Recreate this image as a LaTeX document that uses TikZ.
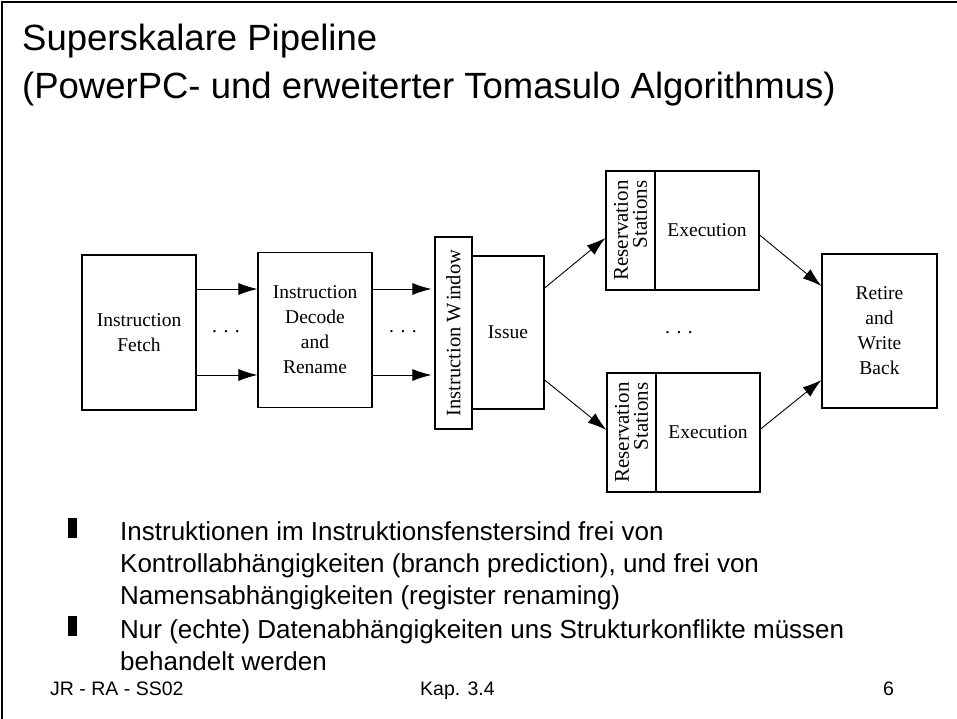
\documentclass[tikz,border=0pt]{standalone}
\usepackage{fontspec}
\setmainfont{Liberation Serif}
\newfontfamily\arial{Liberation Sans}
\usetikzlibrary{arrows.meta}
\begin{document}
\begin{tikzpicture}[x=1pt,y=-1pt,
  blk/.style={draw=black, line width=1.2pt, inner sep=0pt, align=center,
    font=\fontsize{19.5}{25}\selectfont},
  vblk/.style={blk, rotate=90},
  arr/.style={line width=0.9pt, -{Latex[length=19pt,width=12pt]}},
  dots/.style={inner sep=0pt, font=\fontsize{19.5}{25}\selectfont},
  ttl/.style={anchor=base west, inner sep=0pt, font=\arial\fontsize{36.5}{40}\selectfont},
  btxt/.style={anchor=base west, inner sep=0pt, font=\arial\fontsize{26}{32}\selectfont},
  foot/.style={anchor=base west, inner sep=0pt, font=\arial\fontsize{19.5}{22}\selectfont},
  bul/.style={fill=black, draw=none}]
\useasboundingbox (0,0) rectangle (957,719);
\fill[white] (0,0) rectangle (957,719);
% frame (top and left)
\draw[line width=2pt] (2,719) -- (2,2) -- (957,2);
% title
\node[ttl] (t1) at (22,51) {Superskalare Pipeline};
\node[ttl] (t2) at (22,99) {(PowerPC- und erweiterter Tomasulo Algorithmus)};
% blocks
\node[blk, minimum width=114pt, minimum height=155pt] (fetch) at (139,332.5) {Instruction\\Fetch};
\node[blk, minimum width=114pt, minimum height=155pt] (decode) at (315,330) {Instruction\\Decode\\and\\Rename};
\node[vblk, minimum width=192pt, minimum height=37pt, font=\fontsize{20.5}{25}\selectfont] (iw) at (453.5,333) {Instruction W\kern2pt indow};
\node[blk, minimum width=72pt, minimum height=153pt] (issue) at (508,332.5) {Issue};
\node[vblk, minimum width=119pt, minimum height=49pt, align=right, font=\fontsize{21}{19}\selectfont] (rs1) at (630.5,230.5) {Reservation\\Stations};
\node[blk, minimum width=104pt, minimum height=119pt] (ex1) at (707,230.5) {Execution};
\node[vblk, minimum width=119pt, minimum height=49pt, align=right, font=\fontsize{21}{19}\selectfont] (rs2) at (631.5,432.5) {Reservation\\Stations};
\node[blk, minimum width=104pt, minimum height=119pt] (ex2) at (708,432.5) {Execution};
\node[blk, minimum width=115pt, minimum height=154pt] (ret) at (879.5,331) {Retire\\and\\Write\\Back};
% dots
\node[dots] (d1) at (226,332) {.\,\,.\,\,.};
\node[dots] (d2) at (403,332) {.\,\,.\,\,.};
\node[dots] (d3) at (679,333) {.\,\,.\,\,.};
% arrows
\draw[arr] (fetch.east |- 0,289) -- (decode.west |- 0,289);
\draw[arr] (fetch.east |- 0,375) -- (decode.west |- 0,375);
\draw[arr] (decode.east |- 0,289) -- ([xshift=-3pt]iw.north |- 0,289);
\draw[arr] (decode.east |- 0,375) -- ([xshift=-3pt]iw.north |- 0,375);
\draw[arr] (issue.east |- 0,288) -- (rs1.north |- 0,238);
\draw[arr] (issue.east |- 0,380) -- (rs2.north |- 0,430);
\draw[arr] (ex1.east |- 0,235) -- (ret.west |- 0,286);
\draw[arr] (ex2.east |- 0,429) -- (ret.west |- 0,380);
% bullets
\fill[bul] (68,518) rectangle (77,538);
\fill[bul] (68,616) rectangle (77,636);
\node[btxt] (b1) at (120,540) {Instruktionen im Instruktionsfenstersind frei von};
\node[btxt] (b2) at (120,572) {Kontrollabhängigkeiten (branch prediction), und frei von};
\node[btxt] (b3) at (120,604) {Namensabhängigkeiten (register renaming)};
\node[btxt] (b4) at (120,638) {Nur (echte) Datenabhängigkeiten uns Strukturkonflikte müssen};
\node[btxt] (b5) at (120,670) {behandelt werden};
% footer
\node[foot] (f1) at (50,695) {JR - RA - SS02};
\node[foot] (f2) at (420,695) {Kap. 3.4};
\node[foot] (f3) at (883,695) {6};
\end{tikzpicture}
\end{document}
